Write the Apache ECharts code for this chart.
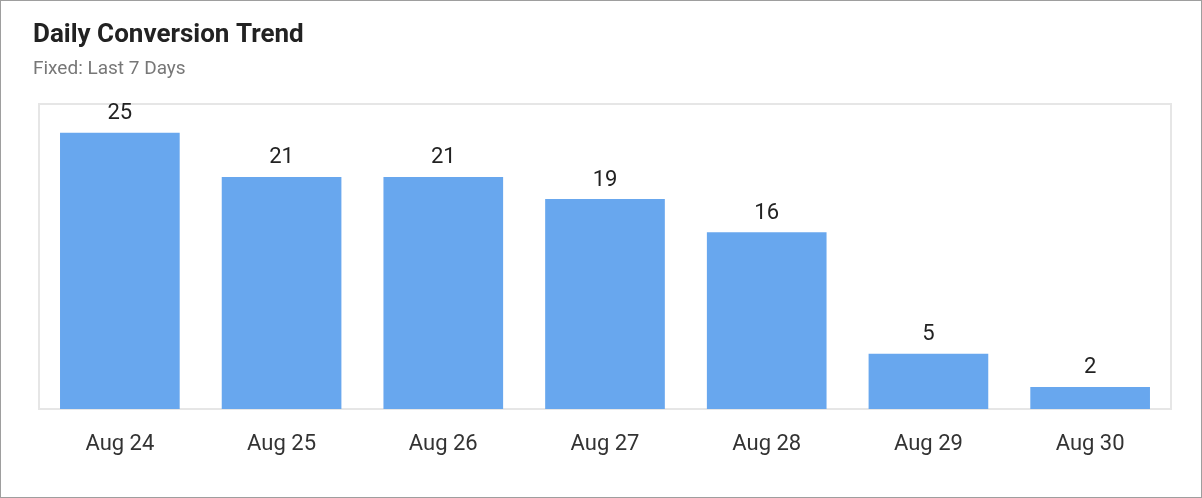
<!DOCTYPE html>
<html><head><meta charset="utf-8">
<script src="https://cdn.jsdelivr.net/npm/echarts@6/dist/echarts.min.js"></script>
<style>html,body{margin:0;padding:0;background:#fff}
#c{position:absolute;left:0;top:0;width:1200px;height:496px;border:1px solid #9e9e9e}</style>
</head><body><div id="c"></div>
<script>
const categories=["Aug 24","Aug 25","Aug 26","Aug 27","Aug 28","Aug 29","Aug 30"];
const conversions=[25,21,21,19,16,5,2];
const chart=echarts.init(document.getElementById('c'));
chart.setOption({
  animation:false,
  textStyle:{fontFamily:'Roboto'},
  title:{text:'Daily Conversion Trend',subtext:'Fixed: Last 7 Days',left:27,top:16,
    textStyle:{fontSize:26,fontWeight:'bold',color:'#222',fontFamily:'Roboto'},
    subtextStyle:{fontSize:19,color:'#777',fontFamily:'Roboto'},itemGap:12},
  grid:{left:38,right:30,top:103,bottom:88,show:true,borderColor:'#e6e6e6',borderWidth:2},
  xAxis:{type:'category',data:categories,axisLine:{show:false},axisTick:{show:false},
    axisLabel:{fontSize:22,color:'#333',margin:24}},
  yAxis:{type:'value',min:0,max:27.6,show:false,splitLine:{show:false}},
  series:[{type:'bar',data:conversions,barWidth:'74%',itemStyle:{color:'#68a7ee'},
    label:{show:true,position:'top',fontSize:22,color:'#222',distance:8}}]
});
</script></body></html>
